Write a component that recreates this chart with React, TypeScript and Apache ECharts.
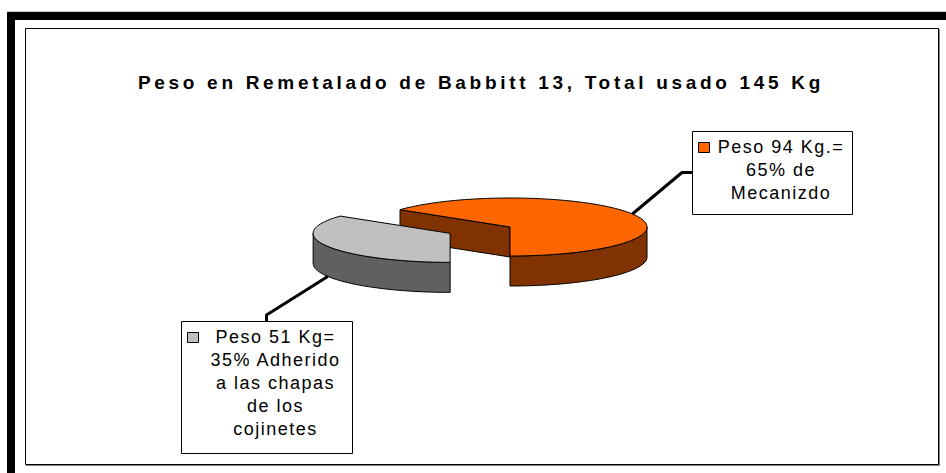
import React, { useEffect, useRef } from "react";
import * as echarts from "echarts";

// ---- data ----
const titleText = "Peso en Remetalado de Babbitt 13, Total usado 145 Kg";
const sliceNames = ["Mecanizado", "Adherido a las chapas de los cojinetes"];
const sliceValues = [94, 51];
const sliceLabelLines = [
  ["Peso 94 Kg.=", "65% de", "Mecanizdo"],
  ["Peso 51 Kg=", "35% Adherido", "a las chapas", "de los", "cojinetes"],
];

// ---- styles & layout ----
const TOP_COLORS = ["#FF6600", "#C0C0C0"];
const SIDE_COLORS = ["#803300", "#606060"];
const EXPLODE = [0, 67];
const LABEL_BOXES = [
  { x: 692, y: 131, w: 160, h: 83, attach: "left" },
  { x: 181, y: 321, w: 171, h: 132, attach: "top" },
];
const PIE = { cx: 510, cy: 227, rx: 137, ry: 29, depth: 30, startAngle: -90 };
const FONT = "Liberation Sans";

const total = sliceValues.reduce((a, b) => a + b, 0);

function renderItem(params: any, api: any) {
  const i = params.dataIndex;
  const v = api.value(0);
  let cum = 0;
  for (let k = 0; k < i; k++) cum += sliceValues[k];
  const a0 = PIE.startAngle + (360 * cum) / total;
  const a1 = a0 + (360 * v) / total;
  const midDeg = (a0 + a1) / 2;
  const mid = (midDeg * Math.PI) / 180;
  const d = EXPLODE[i] || 0;
  const cx = PIE.cx + d * Math.cos(mid);
  const cy = PIE.cy - (d * Math.sin(mid) * PIE.ry) / PIE.rx;
  const pt = (deg: number, drop = 0) => {
    const r = (deg * Math.PI) / 180;
    return [cx + PIE.rx * Math.cos(r), cy - PIE.ry * Math.sin(r) + drop];
  };
  const arc = (s: number, e: number, drop = 0) => {
    const n = Math.max(2, Math.ceil(Math.abs(e - s) / 2));
    const out: number[][] = [];
    for (let k = 0; k <= n; k++) out.push(pt(s + ((e - s) * k) / n, drop));
    return out;
  };
  const edge = { stroke: "#000", lineWidth: 1, lineJoin: "round" };
  const children: any[] = [];
  const radial = (deg: number) => ({
    type: "polygon",
    shape: { points: [[cx, cy], pt(deg), pt(deg, PIE.depth), [cx, cy + PIE.depth]] },
    style: { fill: SIDE_COLORS[i], ...edge },
  });
  if (Math.cos((a0 * Math.PI) / 180) > 1e-6) children.push(radial(a0));
  if (Math.cos((a1 * Math.PI) / 180) < -1e-6) children.push(radial(a1));
  for (let k = -2; k <= 2; k++) {
    const s = Math.max(a0, 180 + 360 * k);
    const e = Math.min(a1, 360 + 360 * k);
    if (e - s > 0.01) {
      const top = arc(s, e);
      const bot = arc(s, e, PIE.depth).reverse();
      children.push({
        type: "polygon",
        shape: { points: top.concat(bot) },
        style: { fill: SIDE_COLORS[i], ...edge },
      });
    }
  }
  children.push({
    type: "polygon",
    shape: { points: [[cx, cy], ...arc(a0, a1)] },
    style: { fill: TOP_COLORS[i], ...edge },
  });

  // leader line + label box
  const box = LABEL_BOXES[i];
  const anchor = pt(midDeg, Math.sin(mid) < 0 ? PIE.depth : 0);
  let end: number[], elbow: number[];
  if (box.attach === "left") {
    end = [box.x, box.y + box.h / 2];
    elbow = [box.x - 10, box.y + box.h / 2];
  } else {
    end = [box.x + box.w / 2, box.y];
    elbow = [box.x + box.w / 2, box.y - 6];
  }
  children.push({
    type: "polyline",
    shape: { points: [anchor, elbow, end] },
    style: { stroke: "#000", lineWidth: 3, lineJoin: "round", lineCap: "butt", fill: null },
  });
  children.push({
    type: "rect",
    shape: { x: box.x + 0.5, y: box.y + 0.5, width: box.w, height: box.h },
    style: { fill: "#fff", stroke: "#000", lineWidth: 1 },
  });
  children.push({
    type: "rect",
    shape: { x: box.x + 6.5, y: box.y + 11.5, width: 11, height: 10 },
    style: { fill: TOP_COLORS[i], stroke: "#000", lineWidth: 1 },
  });
  children.push({
    type: "text",
    x: box.x + box.w / 2 + 9,
    y: box.y + 4.5,
    style: {
      text: sliceLabelLines[i].join("\n"),
      fill: "#000",
      fontSize: 18,
      fontFamily: FONT,
      align: "center",
      verticalAlign: "top",
      lineHeight: 23,
    },
  });
  return { type: "group", children };
}

export default function App() {
  const ref = useRef<HTMLDivElement>(null);
  useEffect(() => {
    if (!ref.current) return;
    const chart = echarts.init(ref.current, undefined, { renderer: "svg" });
    chart.setOption({
      animation: false,
      backgroundColor: "#fff",
      title: {
        text: titleText,
        left: 481,
        top: 73,
        padding: 0,
        textAlign: "center",
        textStyle: { fontFamily: FONT, fontSize: 19, fontWeight: "bold", color: "#000" },
      },
      graphic: [
        { type: "rect", shape: { x: 7, y: 11, width: 939, height: 1 }, style: { fill: "#c8c8c8" } },
        { type: "rect", shape: { x: 7, y: 12, width: 939, height: 8 }, style: { fill: "#000" } },
        { type: "rect", shape: { x: 7, y: 12, width: 8, height: 461 }, style: { fill: "#000" } },
        {
          type: "rect",
          shape: { x: 25.5, y: 28.5, width: 913, height: 436 },
          style: { fill: "none", stroke: "#000", lineWidth: 1 },
        },
        { type: "line", shape: { x1: 939.5, y1: 29, x2: 939.5, y2: 466 }, style: { stroke: "#808080", lineWidth: 1 } },
        { type: "line", shape: { x1: 26, y1: 465.5, x2: 940, y2: 465.5 }, style: { stroke: "#808080", lineWidth: 1 } },
      ],
      series: [
        {
          type: "custom",
          coordinateSystem: "none",
          silent: true,
          renderItem,
          data: sliceValues.map((v, i) => ({ name: sliceNames[i], value: v })),
        },
      ],
    });
    return () => chart.dispose();
  }, []);
  return (
    <>
      <style>{`.pie3d text { letter-spacing: 1.5px; } .pie3d text[style*="bold"] { letter-spacing: 3.7px; }`}</style>
      <div
        ref={ref}
        className="pie3d"
        style={{ position: "absolute", left: 0, top: 0, width: 946, height: 473, background: "#fff" }}
      />
    </>
  );
}
